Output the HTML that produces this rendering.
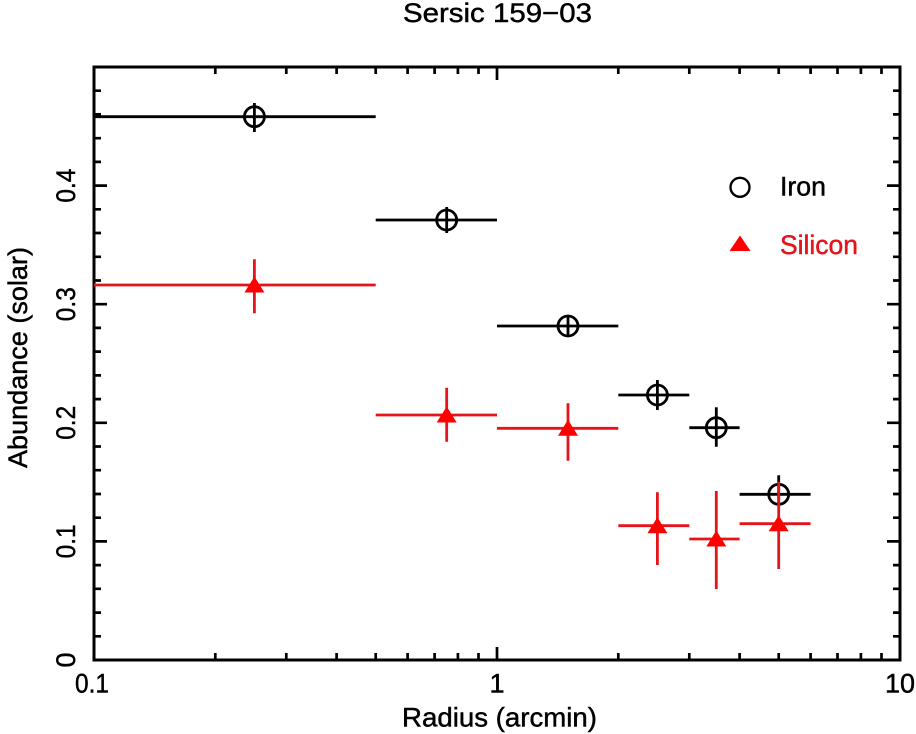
<!DOCTYPE html>
<html><head><meta charset="utf-8"><style>
html,body{margin:0;padding:0;background:#fff;}
svg{display:block;}
text{font-family:"Liberation Sans",sans-serif;fill:#000;stroke:#000;stroke-width:0.45px;}
</style></head><body>
<svg width="916" height="734" viewBox="0 0 916 734" xmlns="http://www.w3.org/2000/svg">
<rect width="916" height="734" fill="#fff"/>
<!-- title -->
<text x="403" y="22" font-size="27" textLength="189" lengthAdjust="spacingAndGlyphs">Sersic 159−03</text>
<!-- axes box -->
<rect x="94" y="67" width="806" height="593" fill="none" stroke="#000" stroke-width="3"/>
<g stroke="#000" stroke-width="2.7">
<path d="M215.3 660v-7M286.3 660v-7M336.6 660v-7M375.7 660v-7M407.6 660v-7M434.6 660v-7M457.9 660v-7M478.5 660v-7M497 660v-13
M618.3 660v-7M689.3 660v-7M739.6 660v-7M778.7 660v-7M810.6 660v-7M837.5 660v-7M860.9 660v-7M881.5 660v-7"/>
<path d="M215.3 67v7M286.3 67v7M336.6 67v7M375.7 67v7M407.6 67v7M434.6 67v7M457.9 67v7M478.5 67v7M497 67v13
M618.3 67v7M689.3 67v7M739.6 67v7M778.7 67v7M810.6 67v7M837.5 67v7M860.9 67v7M881.5 67v7"/>
<path d="M94 636.3h7M94 612.6h7M94 588.8h7M94 565.1h7M94 541.4h13
M94 517.7h7M94 494h7M94 470.2h7M94 446.5h7M94 422.8h13
M94 399.1h7M94 375.4h7M94 351.6h7M94 327.9h7M94 304.2h13
M94 280.5h7M94 256.8h7M94 233h7M94 209.3h7M94 185.6h13
M94 161.9h7M94 138.2h7M94 114.4h7M94 90.7h7"/>
<path d="M900 636.3h-7M900 612.6h-7M900 588.8h-7M900 565.1h-7M900 541.4h-13
M900 517.7h-7M900 494h-7M900 470.2h-7M900 446.5h-7M900 422.8h-13
M900 399.1h-7M900 375.4h-7M900 351.6h-7M900 327.9h-7M900 304.2h-13
M900 280.5h-7M900 256.8h-7M900 233h-7M900 209.3h-7M900 185.6h-13
M900 161.9h-7M900 138.2h-7M900 114.4h-7M900 90.7h-7"/>
</g>
<!-- x tick labels -->
<text x="92" y="692.7" font-size="27" text-anchor="middle" textLength="34" lengthAdjust="spacingAndGlyphs">0.1</text>
<text x="497" y="692.7" font-size="27" text-anchor="middle">1</text>
<text x="900" y="692.7" font-size="27" text-anchor="middle">10</text>
<!-- y tick labels -->
<text x="75" y="660" font-size="27" text-anchor="middle" transform="rotate(-90 75 660)">0</text>
<text x="75" y="541.4" font-size="27" text-anchor="middle" transform="rotate(-90 75 541.4)" textLength="34" lengthAdjust="spacingAndGlyphs">0.1</text>
<text x="75" y="422.8" font-size="27" text-anchor="middle" transform="rotate(-90 75 422.8)" textLength="34" lengthAdjust="spacingAndGlyphs">0.2</text>
<text x="75" y="304.2" font-size="27" text-anchor="middle" transform="rotate(-90 75 304.2)" textLength="34" lengthAdjust="spacingAndGlyphs">0.3</text>
<text x="75" y="185.6" font-size="27" text-anchor="middle" transform="rotate(-90 75 185.6)" textLength="34" lengthAdjust="spacingAndGlyphs">0.4</text>
<!-- axis labels -->
<text x="402" y="726.5" font-size="27" textLength="195" lengthAdjust="spacingAndGlyphs">Radius (arcmin)</text>
<text x="27" y="357.5" font-size="27" text-anchor="middle" textLength="221" lengthAdjust="spacingAndGlyphs" transform="rotate(-90 27 357.5)">Abundance (solar)</text>

<!-- Iron -->
<g stroke="#000" stroke-width="2.8" fill="none">
<path d="M94 116.7H375.7M254.4 103V132"/>
<circle cx="254.4" cy="116.7" r="10"/>
<path d="M375.7 220H497M446.7 207V233"/>
<circle cx="446.7" cy="220" r="10"/>
<path d="M497 326H618.3M568 315.7V336.7"/>
<circle cx="568" cy="326" r="10"/>
<path d="M618.3 395H689.3M657.4 380V410"/>
<circle cx="657.4" cy="395" r="10"/>
<path d="M689.3 427.7H739.6M716.3 407.3V446.7"/>
<circle cx="716.3" cy="427.7" r="10"/>
<path d="M739.6 494.3H810.6M778.7 475.3V505"/>
<circle cx="778.7" cy="494.3" r="10"/>
</g>

<!-- Silicon -->
<g stroke="#e3141c" stroke-width="2.8" fill="none">
<path d="M94 285H375.7M254.4 259.3V313.3"/>
<path d="M375.7 415H497M446.7 387.7V441.7"/>
<path d="M497 428.3H618.3M568 403.3V460.7"/>
<path d="M618.3 525.7H689.3M657.4 492.3V565"/>
<path d="M689.3 539H739.6M716.3 491V589"/>
<path d="M739.6 523.7H810.6M778.7 481.7V569"/>
</g>
<g fill="#f00">
<polygon points="254.4,276.5 244.4,292.5 264.4,292.5"/>
<polygon points="446.7,406.5 436.7,422.5 456.7,422.5"/>
<polygon points="568,419.8 558,435.8 578,435.8"/>
<polygon points="657.4,517.2 647.4,533.2 667.4,533.2"/>
<polygon points="716.3,530.5 706.3,546.5 726.3,546.5"/>
<polygon points="778.7,515.2 768.7,531.2 788.7,531.2"/>
</g>

<!-- legend -->
<circle cx="740" cy="187.3" r="9.5" fill="none" stroke="#000" stroke-width="2.4"/>
<text x="780" y="195.7" font-size="27" textLength="46" lengthAdjust="spacingAndGlyphs">Iron</text>
<polygon points="740,235.5 729.5,251 750.5,251" fill="#f00"/>
<text x="780" y="254" font-size="27" textLength="78" lengthAdjust="spacingAndGlyphs" style="fill:#e3141c;stroke:#e3141c">Silicon</text>
</svg>
</body></html>
